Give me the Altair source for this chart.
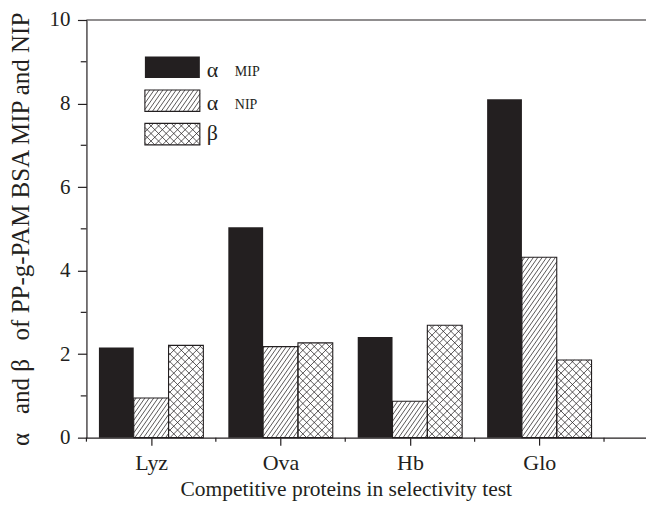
import altair as alt
import pandas as pd
import numpy as np

# ---------------- data ----------------
categories = ["Lyz", "Ova", "Hb", "Glo"]
alpha_mip = [2.16, 5.04, 2.41, 8.10]
alpha_nip = [0.95, 2.18, 0.87, 4.32]
beta_val = [2.21, 2.27, 2.69, 1.86]
series = ["alpha_MIP", "alpha_NIP", "beta"]
legend_greek = ["α", "α", "β"]
legend_sub = ["MIP", "NIP", ""]
y_major = [0, 2, 4, 6, 8, 10]
y_minor = [1, 3, 5, 7, 9]
x_major = [1, 2, 3, 4]
x_minor = [0.5, 1.5, 2.5, 3.5, 4.5]
x_title = "Competitive proteins in selectivity test"
y_title = "α\u00a0\u00a0\u00a0and β\u00a0\u00a0\u00a0of PP-g-PAM BSA MIP and NIP"

# ---------------- layout / style ----------------
W, H = 560, 418
PAD_TOP = 11.8
X_MIN = 0.5
PX_X = 129.5
X_MAX = X_MIN + W / PX_X
Y_MAX = 10
PX_Y = H / Y_MAX
BAR_W = 0.269
INK = "#231f20"
FONT = "Liberation Serif"

# ---------------- bars ----------------
rows = []
for si, vals in enumerate([alpha_mip, alpha_nip, beta_val]):
    for ci, v in enumerate(vals):
        x0 = (ci + 1) + (si - 1.5) * BAR_W
        rows.append(dict(series=series[si], cat=categories[ci], x0=x0, x1=x0 + BAR_W, v=v, base=0.0))
bars = pd.DataFrame(rows)


def hatch(x0, x1, h, slope, step, sign):
    """segments (pixel space, y up) of parallel lines clipped to a box"""
    segs = []
    if sign > 0:
        cmin, cmax = x0 - h / slope, x1
    else:
        cmin, cmax = x0, x1 + h / slope
    for k in range(int(np.floor(cmin / step)), int(np.ceil(cmax / step)) + 1):
        c = k * step
        if sign > 0:
            ylo, yhi = max(0.0, (x0 - c) * slope), min(h, (x1 - c) * slope)
        else:
            ylo, yhi = max(0.0, (c - x1) * slope), min(h, (c - x0) * slope)
        if yhi - ylo > 0.4:
            segs.append((c + sign * ylo / slope, ylo, c + sign * yhi / slope, yhi))
    return segs


PATTERNS = {
    "alpha_NIP": [(1.43, 4.4, 1)],
    "beta": [(1.0, 7.6, 1), (1.0, 7.6, -1)],
}

hrows = []
for _, r in bars.iterrows():
    if r.series not in PATTERNS:
        continue
    px0 = (r.x0 - X_MIN) * PX_X
    px1 = (r.x1 - X_MIN) * PX_X
    h = r.v * PX_Y
    for slope, step, sign in PATTERNS[r.series]:
        for a, b, c, d in hatch(px0, px1, h, slope, step, sign):
            hrows.append(dict(hx0=X_MIN + a / PX_X, hy0=b / PX_Y, hx1=X_MIN + c / PX_X, hy1=d / PX_Y))

# ---------------- legend (pixel layout converted into data units) ----------------
LEG_X0, LEG_W, LEG_TOP, LEG_DY, LEG_H = 58.5, 55.0, 36.5, 33.5, 21.5
GREEK_X, SUB_X = 120.5, 148.5
GREEK_BASE = [20.5, 20.5, 16.5]
SUB_BASE = 19.5

lrows, ltext, lsub = [], [], []
for i, s in enumerate(series):
    top = LEG_TOP + i * LEG_DY
    bot = top + LEG_H
    lrows.append(dict(series=s, x0=X_MIN + LEG_X0 / PX_X, x1=X_MIN + (LEG_X0 + LEG_W) / PX_X,
                      y0=Y_MAX - bot / PX_Y, y1=Y_MAX - top / PX_Y))
    ltext.append(dict(t=legend_greek[i], x=X_MIN + GREEK_X / PX_X, y=Y_MAX - (top + GREEK_BASE[i]) / PX_Y))
    if legend_sub[i]:
        lsub.append(dict(t=legend_sub[i], x=X_MIN + SUB_X / PX_X, y=Y_MAX - (top + SUB_BASE) / PX_Y))
    if s in PATTERNS:
        for slope, step, sign in PATTERNS[s]:
            for a, b, c, d in hatch(LEG_X0, LEG_X0 + LEG_W, LEG_H, slope, step, sign):
                hrows.append(dict(hx0=X_MIN + a / PX_X, hy0=Y_MAX - (bot - b) / PX_Y,
                                  hx1=X_MIN + c / PX_X, hy1=Y_MAX - (bot - d) / PX_Y))

hatches = pd.DataFrame(hrows)
legend_boxes = pd.DataFrame(lrows)
legend_text = pd.DataFrame(ltext)
legend_subtext = pd.DataFrame(lsub)

xscale = alt.Scale(domain=[X_MIN, X_MAX], nice=False, zero=False)
yscale = alt.Scale(domain=[0, Y_MAX], nice=False, zero=False)

label_expr = "[" + ",".join(f"'{c}'" for c in categories) + "][round(datum.value)-1]"

x_axis = alt.Axis(values=x_major, labelExpr=label_expr, title=x_title, grid=False,
                  tickSize=7.5, labelPadding=7.5, titlePadding=5, titleX=259.5,
                  labelFlush=False, labelFontSize=22, titleFontSize=21.5)
y_axis = alt.Axis(values=y_major, title=y_title, grid=False, tickSize=9, labelPadding=7.5,
                  titlePadding=15, labelFontSize=21, titleFontSize=25)


def X(field):
    return alt.X(field, scale=xscale, axis=x_axis)


def Y(field):
    return alt.Y(field, scale=yscale, axis=y_axis)


mip = alt.Chart(bars).transform_filter(alt.datum.series == "alpha_MIP").mark_rect(
    fill=INK, strokeWidth=0).encode(x=X("x0:Q"), x2="x1:Q", y=Y("v:Q"), y2="base:Q")

hatch_layer = alt.Chart(hatches).mark_rule(color=INK, strokeWidth=0.75).encode(
    x=X("hx0:Q"), x2="hx1:Q", y=Y("hy0:Q"), y2="hy1:Q")

outline = alt.Chart(bars).transform_filter(alt.datum.series != "alpha_MIP").mark_rect(
    fillOpacity=0, stroke=INK, strokeWidth=1.1).encode(
    x=X("x0:Q"), x2="x1:Q", y=Y("v:Q"), y2="base:Q")

top_line = alt.Chart(pd.DataFrame({"v": [Y_MAX]})).mark_rule(color=INK, strokeWidth=1.2).encode(
    y=Y("v:Q"), x=alt.datum(X_MIN), x2=alt.datum(X_MAX))

y_minor_ticks = alt.Chart(pd.DataFrame({"v": y_minor})).mark_rule(color=INK, strokeWidth=1.2).encode(
    y=Y("v:Q"), x=alt.value(0), x2=alt.value(-5.7))

x_minor_ticks = alt.Chart(pd.DataFrame({"v": x_minor})).mark_rule(color=INK, strokeWidth=1.2).encode(
    x=X("v:Q"), y=alt.value(H), y2=alt.value(H + 4))

leg_mip = alt.Chart(legend_boxes).transform_filter(alt.datum.series == "alpha_MIP").mark_rect(
    fill=INK).encode(x=X("x0:Q"), x2="x1:Q", y=Y("y0:Q"), y2="y1:Q")

leg_outline = alt.Chart(legend_boxes).transform_filter(alt.datum.series != "alpha_MIP").mark_rect(
    fillOpacity=0, stroke=INK, strokeWidth=1.1).encode(
    x=X("x0:Q"), x2="x1:Q", y=Y("y0:Q"), y2="y1:Q")

leg_greek = alt.Chart(legend_text).mark_text(font=FONT, fontSize=22, align="left",
                                              baseline="alphabetic", color=INK).encode(
    x=X("x:Q"), y=Y("y:Q"), text="t:N")

leg_sub = alt.Chart(legend_subtext).mark_text(font=FONT, fontSize=14, align="left",
                                               baseline="alphabetic", color=INK).encode(
    x=X("x:Q"), y=Y("y:Q"), text="t:N")

chart = alt.layer(
    mip, hatch_layer, outline, top_line, y_minor_ticks, x_minor_ticks,
    leg_mip, leg_outline, leg_greek, leg_sub
).properties(
    width=W, height=H,
    autosize=alt.AutoSizeParams(type="none"),
    padding={"left": 78.5, "top": PAD_TOP, "right": 0, "bottom": 495 - PAD_TOP - H},
).configure_view(stroke=None).configure_axis(
    domainColor=INK, domainWidth=1.2, tickColor=INK, tickWidth=1.2,
    labelFont=FONT, titleFont=FONT, labelColor=INK, titleColor=INK,
    titleFontWeight="normal",
)

chart.save("out.html", embed_options={"renderer": "svg", "actions": False})
